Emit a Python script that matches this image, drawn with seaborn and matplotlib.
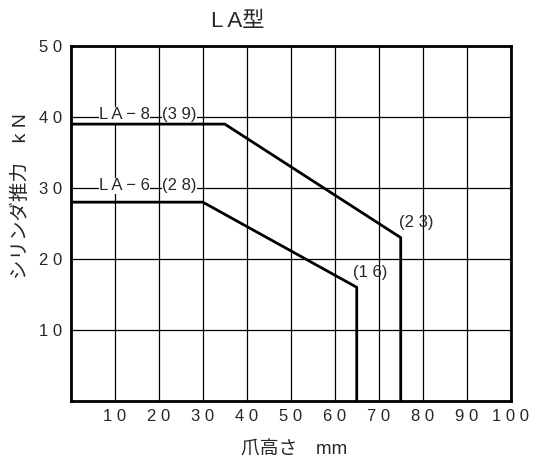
import pandas as pd
import matplotlib.pyplot as plt
import seaborn as sns

# data
la8_height = [0, 35, 75, 75]
la8_force = [39, 39, 23, 0]
la6_height = [0, 30, 65, 65]
la6_force = [28, 28, 16, 0]

x_ticks = [10, 20, 30, 40, 50, 60, 70, 80, 90, 100]
y_ticks = [10, 20, 30, 40, 50]

sns.set_theme(style="white")
plt.rcParams['font.family'] = ['Liberation Sans', 'Noto Sans CJK JP', 'DejaVu Sans']

df = pd.concat([
    pd.DataFrame({"height": la8_height, "force": la8_force, "model": "LA-8"}),
    pd.DataFrame({"height": la6_height, "force": la6_force, "model": "LA-6"}),
])

fig = plt.figure(figsize=(5.45, 4.65), dpi=100)
ax = fig.add_axes([0.130, 0.138, 0.807, 0.763])

sns.lineplot(data=df, x="height", y="force", units="model", estimator=None,
             sort=False, color="black", linewidth=2.0, ax=ax, zorder=5)

ax.set_xlim(0, 100)
ax.set_ylim(0, 50)
ax.set_xticks(x_ticks)
ax.set_yticks(y_ticks)
ax.set_xticklabels([" ".join(str(v)) for v in x_ticks], fontsize=12)
ax.set_yticklabels([" ".join(str(v)) for v in y_ticks], fontsize=12)
ax.tick_params(length=0, pad=6)
ax.grid(True, color="black", linewidth=0.9)
for s in ax.spines.values():
    s.set_color("black")
    s.set_linewidth(2.0)
ax.set_xlabel("")
ax.set_ylabel("")

# labels sitting on the grid lines, the grid shows through the gap
box = dict(facecolor="white", edgecolor="none", pad=0.3)
for y, name, val in [(40, "L A − 8", "(3 9)"), (30, "L A − 6", "(2 8)")]:
    ax.text(12.2, y + 0.3, name, ha="center", va="center", fontsize=12, bbox=box, zorder=4)
    ax.text(24.7, y + 0.3, val, ha="center", va="center", fontsize=12, bbox=box, zorder=4)
ax.text(78.6, 25.2, "(2 3)", ha="center", va="center", fontsize=12, zorder=4)
ax.text(68.0, 18.1, "(1 6)", ha="center", va="center", fontsize=12, zorder=4)

# title and axis titles placed where the reference has them
fig.text(238 / 545, 1 - 21 / 465, "L A型", ha="center", va="center", fontsize=16)
fig.text(294 / 545, 1 - 450 / 465, "爪高さ　mm", ha="center", va="center", fontsize=13.5)
fig.text(21 / 545, 1 - 196 / 465, "シリンダ推力　k N", ha="center", va="center",
         rotation=90, fontsize=14)

fig.savefig("out.png", dpi=100)
